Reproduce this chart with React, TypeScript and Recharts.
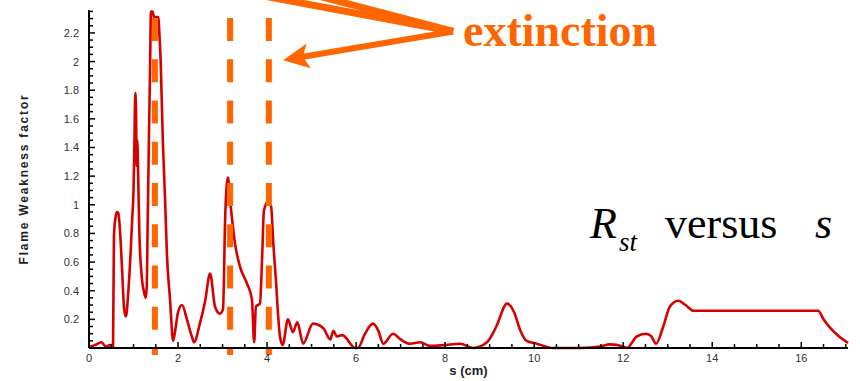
import { LineChart, Line, XAxis, YAxis, ReferenceLine } from "recharts";

// flame weakness factor R_st along the arc length s (cm)
const sCm = [
  0, 0.13, 0.28, 0.38, 0.47, 0.54, 0.56, 0.6, 0.63, 0.66, 0.7, 0.74, 0.79, 0.83, 0.88, 0.94, 0.97,
  1.0, 1.02, 1.04, 1.056, 1.07, 1.085, 1.108, 1.13, 1.184, 1.236, 1.274, 1.297, 1.319, 1.348, 1.371,
  1.393, 1.43, 1.46, 1.56, 1.58, 1.61, 1.66, 1.71, 1.75, 1.82, 1.89, 1.95, 2.0, 2.09, 2.2, 2.3, 2.36,
  2.49, 2.61, 2.72, 2.83, 2.94, 3.01, 3.06, 3.12, 3.17, 3.28, 3.39, 3.55, 3.66, 3.71, 3.75, 3.84, 3.89,
  3.93, 4.02, 4.09, 4.14, 4.2, 4.25, 4.29, 4.35, 4.47, 4.58, 4.68, 4.81, 5.03, 5.26, 5.42, 5.49, 5.57,
  5.69, 5.98, 6.04, 6.2, 6.38, 6.5, 6.61, 6.83, 7.0, 7.21, 7.44, 7.66, 7.96, 8.34, 8.63, 8.94, 9.15,
  9.39, 9.55, 9.68, 9.83, 10.06, 10.43, 11.03, 11.48, 11.7, 12.0, 12.08, 12.3, 12.5, 12.62, 12.74, 12.9,
  13.05, 13.24, 13.4, 13.58, 16.38, 16.5, 16.65, 16.85, 17.05,
];
const weakness = [
  0.01, 0.02, 0.04, 0.01, 0.02, 0.01, 0.78, 0.92, 0.95, 0.94, 0.8, 0.57, 0.27, 0.22, 0.38, 0.7, 0.9,
  1.1, 1.43, 1.78, 1.67, 1.27, 1.45, 1.15, 0.82, 0.5, 0.39, 0.35, 0.43, 0.9, 1.5, 1.94,
  2.35, 2.35, 2.31, 2.31, 2.2, 2.0, 1.43, 1.03, 0.66, 0.34, 0.05, 0.15, 0.25, 0.3, 0.2, 0.09, 0.04,
  0.17, 0.33, 0.52, 0.29, 0.24, 0.27, 0.92, 1.19, 1.03, 0.73, 0.57, 0.45, 0.34, 0.04, 0.29, 0.31, 0.64,
  0.96, 1.02, 0.99, 0.73, 0.47, 0.22, 0.08, 0.02, 0.2, 0.11, 0.18, 0.03, 0.17, 0.14, 0.06, 0.12, 0.08,
  0.09, 0, 0, 0.1, 0.17, 0.12, 0.03, 0.1, 0.06, 0.03, 0.04, 0.015, 0.02, 0.03, 0, 0.04, 0.15,
  0.31, 0.25, 0.13, 0.05, 0.03, 0, 0, 0.01, 0.025, 0.01, 0, 0.08, 0.1, 0.085, 0.03, 0.15,
  0.29, 0.33, 0.3, 0.26, 0.26, 0.2, 0.14, 0.08, 0.035,
];

// extinction locations along s
const extinctionS = [1.48, 3.17, 4.04];

const xTickLabels = [0, 2, 4, 6, 8, 10, 12, 14, 16];
const yTickLabels = [0.2, 0.4, 0.6, 0.8, 1, 1.2, 1.4, 1.6, 1.8, 2, 2.2];

// minor ticks: every 0.5 cm on s, every 0.05 on the factor
const xTicks = Array.from({ length: 35 }, (_, i) => i * 0.5);
const yTicks = Array.from({ length: 47 }, (_, i) => Number(((i + 1) * 0.05).toFixed(2)));

const data = sCm.map((s, i) => ({ s, r: weakness[i] }));

const ORANGE = "#ff6600";
const RED = "#d60000";
const TICK_FONT = "'Liberation Sans', Arial, sans-serif";
const SERIF = "'Liberation Serif', 'Times New Roman', serif";

const isLabel = (list: number[], v: number) => list.some((t) => Math.abs(t - v) < 1e-6);

function YTick({ x, y, payload }: any) {
  const v = payload.value;
  const major = isLabel(yTickLabels, v);
  return (
    <g>
      <line x1={x} y1={y} x2={x + (major ? 6 : 4)} y2={y} stroke="#000" strokeWidth={1.5} />
      {major && (
        <text x={x - 10} y={y} textAnchor="end" dominantBaseline="central" fontSize={11} fontFamily={TICK_FONT} fill="#333">
          {Number(v.toFixed(1)).toString()}
        </text>
      )}
    </g>
  );
}

function XTick({ x, y, payload }: any) {
  const v = payload.value;
  const major = isLabel(xTickLabels, v);
  return (
    <g>
      <line x1={x} y1={y} x2={x} y2={y - (major ? 6 : 4)} stroke="#000" strokeWidth={1.5} />
      {major && (
        <text x={x} y={y + 10} textAnchor="middle" dominantBaseline="central" fontSize={11} fontFamily={TICK_FONT} fill="#333">
          {v}
        </text>
      )}
    </g>
  );
}

// callout arrow with a notched head at the far end
function ArrowShape(p: any) {
  const { x1, y1, x2, y2 } = p;
  const len = Math.hypot(x2 - x1, y2 - y1);
  const ux = (x2 - x1) / len;
  const uy = (y2 - y1) / len;
  const nx = -uy;
  const ny = ux;
  const head = 26;
  const half = 12.5;
  const notch = 20;
  const bx = x2 - ux * head;
  const by = y2 - uy * head;
  const mx = x2 - ux * notch;
  const my = y2 - uy * notch;
  return (
    <g>
      <line x1={x1} y1={y1} x2={mx} y2={my} stroke={ORANGE} strokeWidth={6} />
      <polygon
        points={`${x2},${y2} ${bx + nx * half},${by + ny * half} ${mx},${my} ${bx - nx * half},${by - ny * half}`}
        fill={ORANGE}
      />
    </g>
  );
}

const calloutS = 8.18;
const calloutR = 2.21;

export default function App() {
  return (
    <div style={{ position: "absolute", left: 0, top: 0, width: 860, height: 381, background: "#fff" }}>
      <LineChart width={860} height={381} data={data} margin={{ top: 10, right: 12, left: 0, bottom: 0 }}>
        <XAxis
          dataKey="s"
          type="number"
          domain={[0, 17.05]}
          ticks={xTicks}
          interval={0}
          tick={<XTick />}
          tickLine={false}
          tickSize={0}
          tickMargin={0}
          height={33}
          axisLine={{ stroke: "#000", strokeWidth: 2 }}
          label={(props: any) => {
            const vb = props.viewBox;
            return (
              <text
                x={vb.x + vb.width / 2}
                y={vb.y + 22}
                textAnchor="middle"
                dominantBaseline="central"
                fontSize={13}
                fontWeight="bold"
                fontFamily={TICK_FONT}
                fill="#222"
              >
                s (cm)
              </text>
            );
          }}
        />
        <YAxis
          type="number"
          domain={[0, 2.36]}
          ticks={yTicks}
          interval={0}
          tick={<YTick />}
          tickLine={false}
          tickSize={0}
          tickMargin={0}
          width={89}
          axisLine={{ stroke: "#000", strokeWidth: 2 }}
          label={(props: any) => {
            const vb = props.viewBox;
            const cx = 24;
            const cy = vb.y + vb.height / 2;
            return (
              <text
                x={cx}
                y={cy}
                transform={`rotate(-90 ${cx} ${cy})`}
                textAnchor="middle"
                dominantBaseline="central"
                fontSize={12}
                fontWeight="bold"
                letterSpacing={1.8}
                fontFamily={TICK_FONT}
                fill="#222"
              >
                Flame Weakness factor
              </text>
            );
          }}
        />
        <Line
          dataKey="r"
          type="monotone"
          stroke={RED}
          strokeWidth={2.6}
          dot={false}
          activeDot={false}
          isAnimationActive={false}
        />
        {extinctionS.map((s) => (
          <ReferenceLine
            key={s}
            segment={[{ x: s, y: 2.592 }, { x: s, y: -0.049 }]}
            ifOverflow="visible"
            stroke={ORANGE}
            strokeWidth={6}
            strokeDasharray="23 18.25"
          />
        ))}
        <ReferenceLine
          segment={[{ x: calloutS, y: calloutR }, { x: extinctionS[0], y: 2.6 }]}
          ifOverflow="visible"
          stroke={ORANGE}
          strokeWidth={7}
        />
        <ReferenceLine
          segment={[{ x: calloutS, y: calloutR }, { x: extinctionS[1], y: 2.62 }]}
          ifOverflow="visible"
          stroke={ORANGE}
          strokeWidth={7}
        />
        <ReferenceLine
          segment={[{ x: calloutS, y: calloutR }, { x: 4.36, y: 2.01 }]}
          ifOverflow="visible"
          shape={ArrowShape}
        />
      </LineChart>
      <svg width={860} height={381} style={{ position: "absolute", left: 0, top: 0, pointerEvents: "none" }}>
        <text x={463} y={46} fontSize={46} fontWeight="bold" fontFamily={SERIF} fill={ORANGE}>
          extinction
        </text>
        <g fontFamily={SERIF} fill="#000">
          <text x={590} y={238} fontSize={44} fontStyle="italic">R</text>
          <text x={619} y={251} fontSize={27} fontStyle="italic">st</text>
          <text x={665} y={238} fontSize={44}>versus</text>
          <text x={815} y={238} fontSize={44} fontStyle="italic">s</text>
        </g>
      </svg>
    </div>
  );
}
